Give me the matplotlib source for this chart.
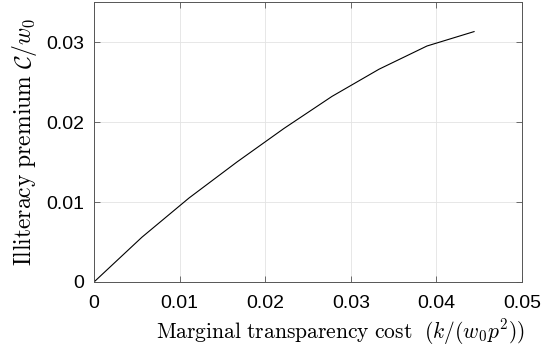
import matplotlib
matplotlib.use('Agg')
import matplotlib.pyplot as plt

# data
cost = [0, 0.0056, 0.0111, 0.0167, 0.0222, 0.0278, 0.0333, 0.0389, 0.0444]
premium = [0, 0.0056, 0.0105, 0.0150, 0.0192, 0.0232, 0.0266, 0.0295, 0.0313]

xticks = [0, 0.01, 0.02, 0.03, 0.04, 0.05]
xtick_labels = ['0', '0.01', '0.02', '0.03', '0.04', '0.05']
yticks = [0, 0.01, 0.02, 0.03]
ytick_labels = ['0', '0.01', '0.02', '0.03']

plt.rcParams['mathtext.fontset'] = 'cm'
plt.rcParams['font.family'] = 'Liberation Sans'

fig = plt.figure(figsize=(5.44, 3.51), dpi=100)
ax = fig.add_axes([94/544, 1 - 282/351, 428/544, 280/351])

ax.plot(cost, premium, color='black', lw=0.8)

ax.set_xlim(0, 0.05)
ax.set_ylim(0, 0.035)
ax.set_xticks(xticks)
ax.set_xticklabels(xtick_labels)
ax.set_yticks(yticks)
ax.set_yticklabels(ytick_labels)
ax.tick_params(direction='in', length=4, width=0.6, color='#555555',
               labelsize=14, top=True, right=True, labelcolor='black')
ax.tick_params(axis='x', pad=9)
ax.tick_params(axis='y', pad=7)
ax.grid(True, color='#e3e3e3', lw=0.6)
ax.set_axisbelow(True)
for s in ax.spines.values():
    s.set_color('#555555')
    s.set_linewidth(0.7)

ax.set_xlabel(r'$\mathrm{Marginal\ transparency\ cost}\ \ (k/(w_0p^2))$',
              fontsize=15.5)
ax.xaxis.set_label_coords(0.575, -0.125, transform=ax.transAxes)
ax.xaxis.label.set_va('top')
ax.set_ylabel(r'$\mathrm{Illiteracy\ premium}\ \mathcal{C}/w_0$',
              fontsize=17, labelpad=5)

fig.savefig('out.png', dpi=100)
